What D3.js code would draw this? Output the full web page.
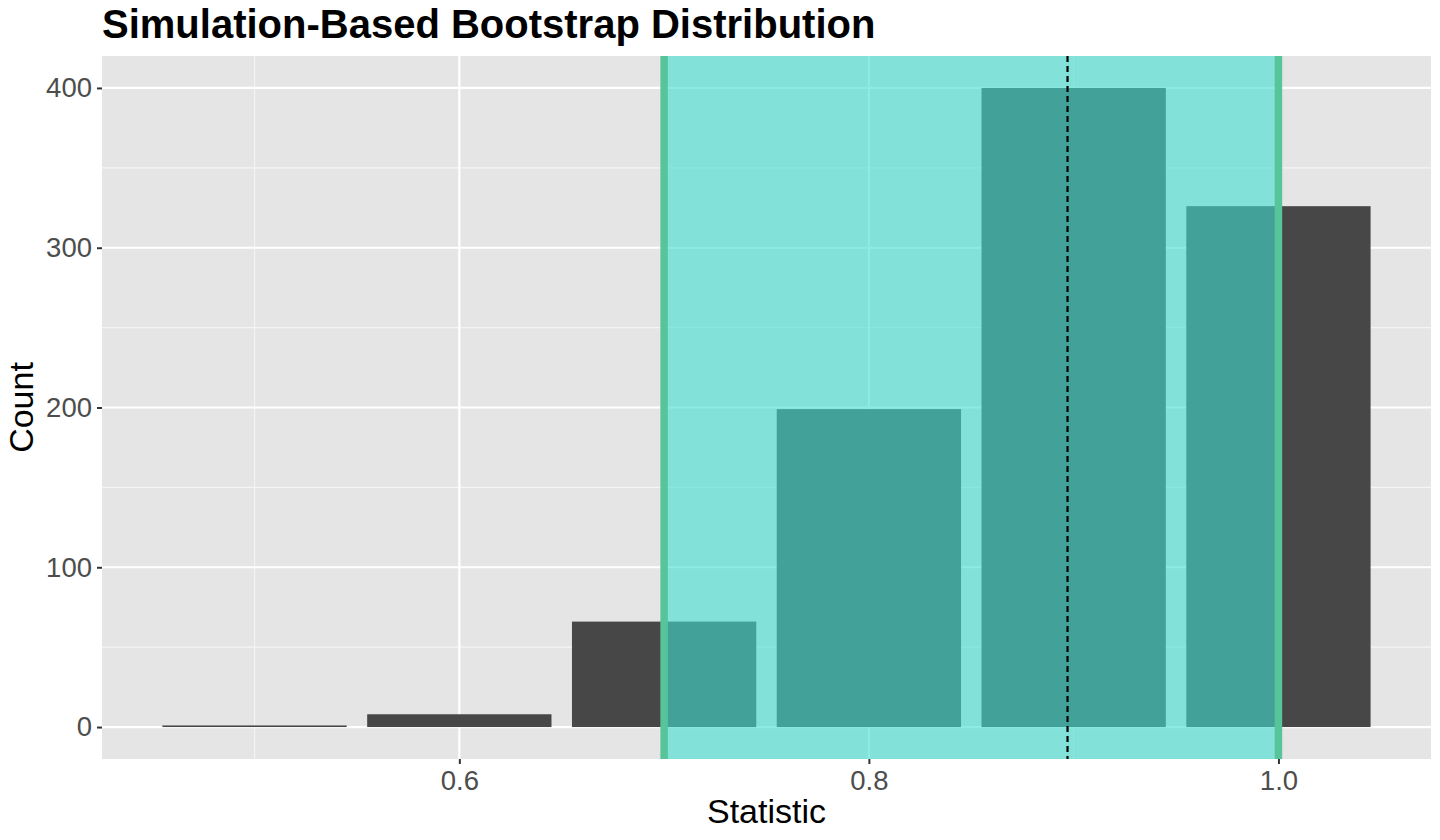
<!DOCTYPE html>
<html>
<head>
<meta charset="utf-8">
<script src="https://cdn.jsdelivr.net/npm/d3@7"></script>
<style>
  html, body { margin: 0; padding: 0; background: #ffffff; }
  svg { display: block; }
  text { font-family: "Liberation Sans", Arial, sans-serif; }
</style>
</head>
<body>
<svg id="chart" width="1440" height="840"></svg>
<script>
// ---- data ----
const binCenters = [0.5, 0.6, 0.7, 0.8, 0.9, 1.0];
const counts = [1, 8, 66, 199, 400, 326];
const binWidth = 0.09;
const ciBounds = [0.7, 1.0];
const observedStat = 0.897;
const xTicks = [0.6, 0.8, 1.0];
const xMinor = [0.5, 0.7, 0.9];
const yTicks = [0, 100, 200, 300, 400];
const yMinor = [50, 150, 250, 350];
const titleText = "Simulation-Based Bootstrap Distribution";
const xLabel = "Statistic";
const yLabel = "Count";

// ---- layout ----
const panel = { left: 102, right: 1431, top: 56, bottom: 759 };
const svg = d3.select("#chart");

const xMin = d3.min(binCenters) - binWidth / 2;
const xMax = d3.max(binCenters) + binWidth / 2;
const xPad = (xMax - xMin) * 0.05;
const x = d3.scaleLinear().domain([xMin - xPad, xMax + xPad]).range([panel.left, panel.right]);
const yMaxV = d3.max(counts);
const y = d3.scaleLinear().domain([-yMaxV * 0.05, yMaxV * 1.05]).range([panel.bottom, panel.top]);

// panel background
svg.append("rect")
  .attr("x", panel.left).attr("y", panel.top)
  .attr("width", panel.right - panel.left).attr("height", panel.bottom - panel.top)
  .attr("fill", "#E5E5E5");

const grid = svg.append("g");
// minor grid
grid.selectAll(".xminor").data(xMinor).enter().append("line")
  .attr("x1", d => x(d)).attr("x2", d => x(d))
  .attr("y1", panel.top).attr("y2", panel.bottom)
  .attr("stroke", "#F5F5F5").attr("stroke-width", 1.1);
grid.selectAll(".yminor").data(yMinor).enter().append("line")
  .attr("y1", d => y(d)).attr("y2", d => y(d))
  .attr("x1", panel.left).attr("x2", panel.right)
  .attr("stroke", "#F5F5F5").attr("stroke-width", 1.1);
// major grid
grid.selectAll(".xmajor").data(xTicks).enter().append("line")
  .attr("x1", d => x(d)).attr("x2", d => x(d))
  .attr("y1", panel.top).attr("y2", panel.bottom)
  .attr("stroke", "#FFFFFF").attr("stroke-width", 2.2);
grid.selectAll(".ymajor").data(yTicks).enter().append("line")
  .attr("y1", d => y(d)).attr("y2", d => y(d))
  .attr("x1", panel.left).attr("x2", panel.right)
  .attr("stroke", "#FFFFFF").attr("stroke-width", 2.2);

// bars
svg.append("g").selectAll("rect").data(binCenters).enter().append("rect")
  .attr("x", d => x(d - binWidth / 2))
  .attr("width", d => x(d + binWidth / 2) - x(d - binWidth / 2))
  .attr("y", (d, i) => y(counts[i]))
  .attr("height", (d, i) => y(0) - y(counts[i]))
  .attr("fill", "#474747");

// CI shading
svg.append("rect")
  .attr("x", x(ciBounds[0])).attr("width", x(ciBounds[1]) - x(ciBounds[0]))
  .attr("y", panel.top).attr("height", panel.bottom - panel.top)
  .attr("fill", "#40E0D0").attr("fill-opacity", 0.6);

// CI lines
svg.append("g").selectAll("line").data(ciBounds).enter().append("line")
  .attr("x1", d => x(d)).attr("x2", d => x(d))
  .attr("y1", panel.top).attr("y2", panel.bottom)
  .attr("stroke", "#57C599").attr("stroke-width", 7.5);

// observed stat dashed line
svg.append("line")
  .attr("x1", x(observedStat)).attr("x2", x(observedStat))
  .attr("y1", panel.top).attr("y2", panel.bottom)
  .attr("stroke", "#000000").attr("stroke-width", 2.2)
  .attr("stroke-dasharray", "6,4");

// axes
const xAxis = d3.axisBottom(x).tickValues(xTicks).tickFormat(d3.format(".1f")).tickSize(5).tickPadding(6);
const gx = svg.append("g").attr("transform", `translate(0,${panel.bottom})`).call(xAxis);
gx.select(".domain").remove();
gx.selectAll(".tick line").attr("stroke", "#333333").attr("stroke-width", 2);
gx.selectAll(".tick text").attr("fill", "#4D4D4D").style("font-size", "27.5px")
  .style("font-family", "'Liberation Sans', Arial, sans-serif");

const yAxis = d3.axisLeft(y).tickValues(yTicks).tickFormat(d3.format("d")).tickSize(5).tickPadding(5);
const gy = svg.append("g").attr("transform", `translate(${panel.left},0)`).call(yAxis);
gy.select(".domain").remove();
gy.selectAll(".tick line").attr("stroke", "#333333").attr("stroke-width", 2);
gy.selectAll(".tick text").attr("fill", "#4D4D4D").style("font-size", "27.5px")
  .style("font-family", "'Liberation Sans', Arial, sans-serif");

// title
svg.append("text")
  .attr("x", panel.left).attr("y", 38)
  .attr("font-size", 40).attr("font-weight", "bold").attr("fill", "#000")
  .text(titleText);

// axis titles
svg.append("text")
  .attr("x", (panel.left + panel.right) / 2).attr("y", 823)
  .attr("text-anchor", "middle").attr("font-size", 34).attr("fill", "#000")
  .text(xLabel);

svg.append("text")
  .attr("transform", `translate(33,${(panel.top + panel.bottom) / 2}) rotate(-90)`)
  .attr("text-anchor", "middle").attr("font-size", 34).attr("fill", "#000")
  .text(yLabel);
</script>
</body>
</html>
